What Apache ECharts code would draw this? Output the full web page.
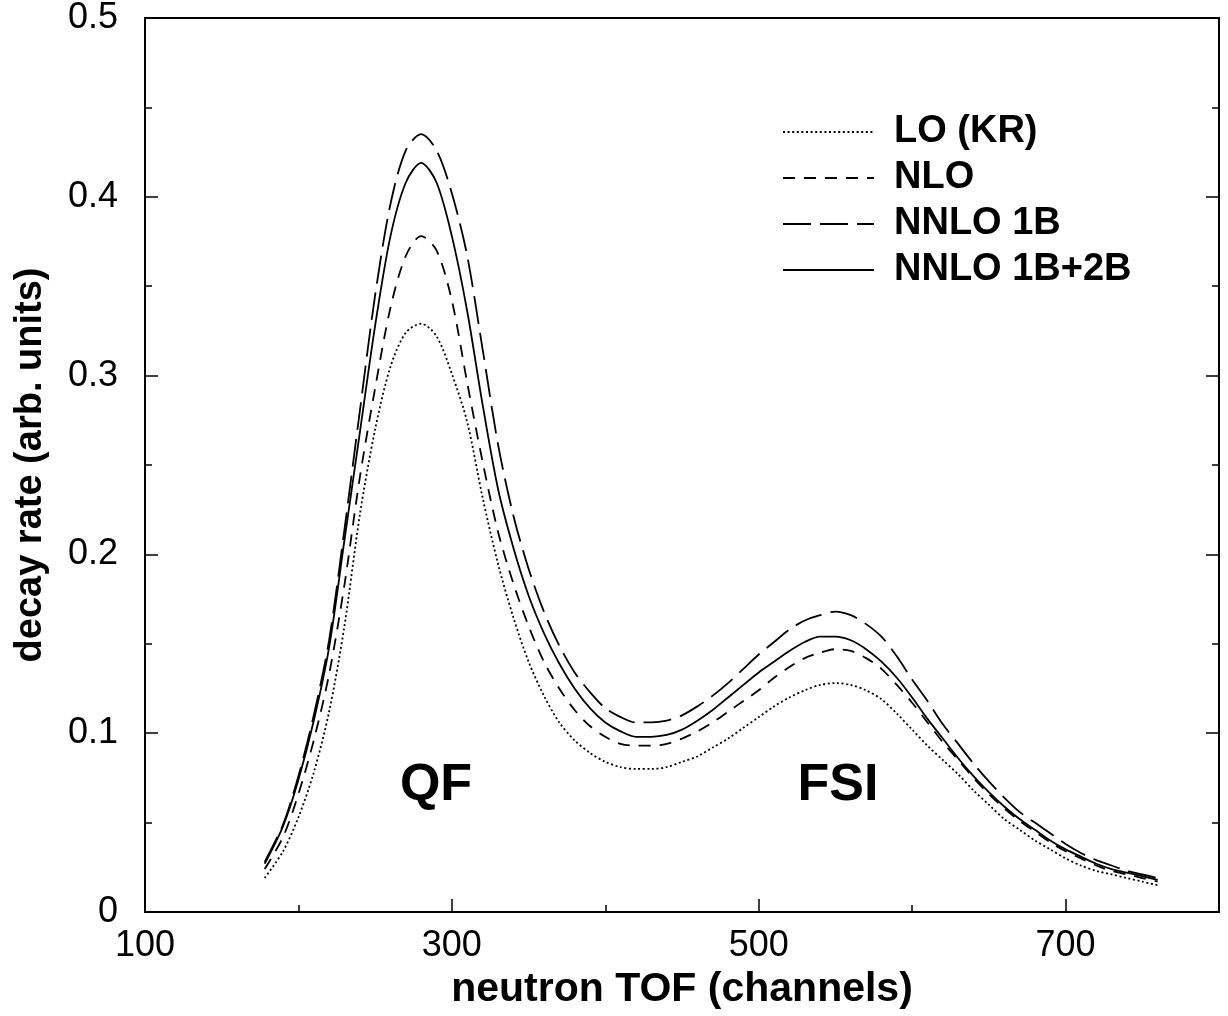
<!DOCTYPE html>
<html>
<head>
<meta charset="utf-8">
<script src="https://cdn.jsdelivr.net/npm/echarts@6/dist/echarts.min.js"></script>
<style>
html,body{margin:0;padding:0;background:#fff;}
#chart{width:1228px;height:1016px;}
</style>
</head>
<body>
<div id="chart"></div>
<script>
// neutron TOF channels
const xs = [178,190,200,210,220,230,240,250,260,270,280,290,300,310,320,330,340,350,360,370,380,390,400,410,420,430,440,450,460,470,480,490,500,510,520,530,540,550,560,570,580,590,600,610,620,630,640,650,660,670,680,690,700,710,720,730,740,750,760];

const loKR = [0.019,0.034,0.053,0.078,0.112,0.160,0.222,0.270,0.305,0.324,0.329,0.322,0.301,0.274,0.232,0.195,0.165,0.140,0.121,0.106,0.096,0.089,0.084,0.081,0.080,0.080,0.081,0.084,0.087,0.092,0.097,0.103,0.109,0.115,0.120,0.124,0.127,0.128,0.127,0.124,0.119,0.111,0.102,0.093,0.085,0.077,0.068,0.060,0.052,0.046,0.040,0.035,0.030,0.026,0.023,0.021,0.019,0.017,0.015];

const nlo = [0.024,0.042,0.066,0.096,0.133,0.183,0.243,0.293,0.338,0.367,0.378,0.370,0.342,0.296,0.252,0.213,0.184,0.160,0.140,0.125,0.113,0.104,0.098,0.094,0.093,0.093,0.094,0.097,0.101,0.106,0.112,0.118,0.124,0.131,0.137,0.142,0.145,0.147,0.146,0.142,0.136,0.127,0.117,0.106,0.095,0.085,0.075,0.066,0.058,0.051,0.045,0.039,0.034,0.030,0.026,0.023,0.021,0.019,0.017];

const nnlo1B = [0.028,0.049,0.076,0.110,0.152,0.214,0.280,0.345,0.396,0.426,0.435,0.426,0.402,0.367,0.315,0.262,0.222,0.192,0.168,0.149,0.134,0.123,0.114,0.109,0.106,0.106,0.107,0.110,0.115,0.121,0.128,0.136,0.144,0.151,0.158,0.163,0.166,0.168,0.166,0.161,0.154,0.143,0.130,0.118,0.105,0.094,0.083,0.073,0.064,0.056,0.050,0.044,0.038,0.033,0.029,0.026,0.023,0.021,0.019];

const nnlo1B2B = [0.027,0.048,0.074,0.107,0.148,0.208,0.268,0.328,0.378,0.408,0.419,0.408,0.378,0.336,0.284,0.237,0.204,0.177,0.156,0.139,0.125,0.114,0.106,0.101,0.098,0.098,0.099,0.102,0.107,0.113,0.120,0.127,0.134,0.140,0.146,0.151,0.154,0.154,0.152,0.147,0.140,0.131,0.120,0.108,0.097,0.086,0.076,0.067,0.059,0.052,0.046,0.040,0.035,0.031,0.027,0.024,0.022,0.020,0.018];

const seriesNames = ['LO (KR)','NLO','NNLO 1B','NNLO 1B+2B'];
const xMajorTicks = [100,300,500,700];
const xMinorTicks = [200,400,600];

const FONT = "'Liberation Sans', Arial, Helvetica, sans-serif";
const pair = arr => xs.map((x,i)=>[x,arr[i]]);

const chart = echarts.init(document.getElementById('chart'), null, {renderer:'canvas'});

const lineBase = {type:'line', symbol:'none', smooth:0.3, xAxisIndex:0, yAxisIndex:0, z:3};

chart.setOption({
  animation:false,
  backgroundColor:'#fff',
  grid:{left:145, top:17, right:9, bottom:104, show:true, borderColor:'#000', borderWidth:2, backgroundColor:'transparent'},
  legend:{
    orient:'vertical', left:777, top:108, itemWidth:91, itemHeight:14, itemGap:8,
    data:seriesNames,
    itemStyle:{opacity:0, color:'rgba(0,0,0,0)', borderWidth:0},
    textStyle:{fontFamily:FONT, fontSize:38, fontWeight:'bold', color:'#000', lineHeight:38, padding:[0,0,0,15]}
  },
  xAxis:[{
    type:'value', min:100, max:800, interval:100,
    name:'neutron TOF (channels)', nameLocation:'middle', nameGap:56,
    nameTextStyle:{fontFamily:FONT, fontSize:41, fontWeight:'bold', color:'#000'},
    axisLine:{show:true, onZero:false, lineStyle:{color:'#000', width:2}},
    axisTick:{show:true, inside:true, length:13, customValues:xMajorTicks, lineStyle:{color:'#000', width:1.5}},
    axisLabel:{customValues:xMajorTicks, fontFamily:FONT, fontSize:36, color:'#000', margin:16},
    splitLine:{show:false}
  },{
    type:'value', min:100, max:800, interval:100, position:'bottom',
    axisLine:{show:false},
    axisTick:{show:true, inside:true, length:7, customValues:xMinorTicks, lineStyle:{color:'#000', width:1.5}},
    axisLabel:{show:false},
    splitLine:{show:false}
  }],
  yAxis:[{
    type:'value', min:0, max:0.5, interval:0.1,
    name:'decay rate (arb. units)', nameLocation:'middle', nameGap:95,
    nameTextStyle:{fontFamily:FONT, fontSize:38, fontWeight:'bold', color:'#000'},
    axisLine:{show:true, onZero:false, lineStyle:{color:'#000', width:2}},
    axisTick:{show:true, inside:true, length:13, lineStyle:{color:'#000', width:1.5}},
    minorTick:{show:true, splitNumber:2, length:7, lineStyle:{color:'#000', width:1.5}},
    axisLabel:{fontFamily:FONT, fontSize:36, color:'#000', margin:27, formatter:v=> v===0 ? '0' : v.toFixed(1)},
    splitLine:{show:false}
  },{
    type:'value', min:0, max:0.5, interval:0.1, position:'right',
    axisLine:{show:true, onZero:false, lineStyle:{color:'#000', width:2}},
    axisTick:{show:true, inside:true, length:13, lineStyle:{color:'#000', width:1.5}},
    minorTick:{show:true, splitNumber:2, length:7, lineStyle:{color:'#000', width:1.5}},
    axisLabel:{show:false},
    splitLine:{show:false}
  }],
  series:[
    Object.assign({}, lineBase, {name:seriesNames[0], data:pair(loKR), lineStyle:{color:'#000', width:1.8, type:[2,2.6]}, itemStyle:{color:'#000'}}),
    Object.assign({}, lineBase, {name:seriesNames[1], data:pair(nlo), lineStyle:{color:'#000', width:1.8, type:[12,9]}, itemStyle:{color:'#000'}}),
    Object.assign({}, lineBase, {name:seriesNames[2], data:pair(nnlo1B), lineStyle:{color:'#000', width:1.8, type:[28,9]}, itemStyle:{color:'#000'}}),
    Object.assign({}, lineBase, {name:seriesNames[3], data:pair(nnlo1B2B), lineStyle:{color:'#000', width:1.8, type:'solid'}, itemStyle:{color:'#000'}})
  ],
  graphic:[
    {type:'text', style:{x:436, y:786, text:'QF', font:"bold 52px "+FONT, fill:'#000', textAlign:'center', textVerticalAlign:'middle'}},
    {type:'text', style:{x:838, y:786, text:'FSI', font:"bold 52px "+FONT, fill:'#000', textAlign:'center', textVerticalAlign:'middle'}}
  ]
});
</script>
</body>
</html>
